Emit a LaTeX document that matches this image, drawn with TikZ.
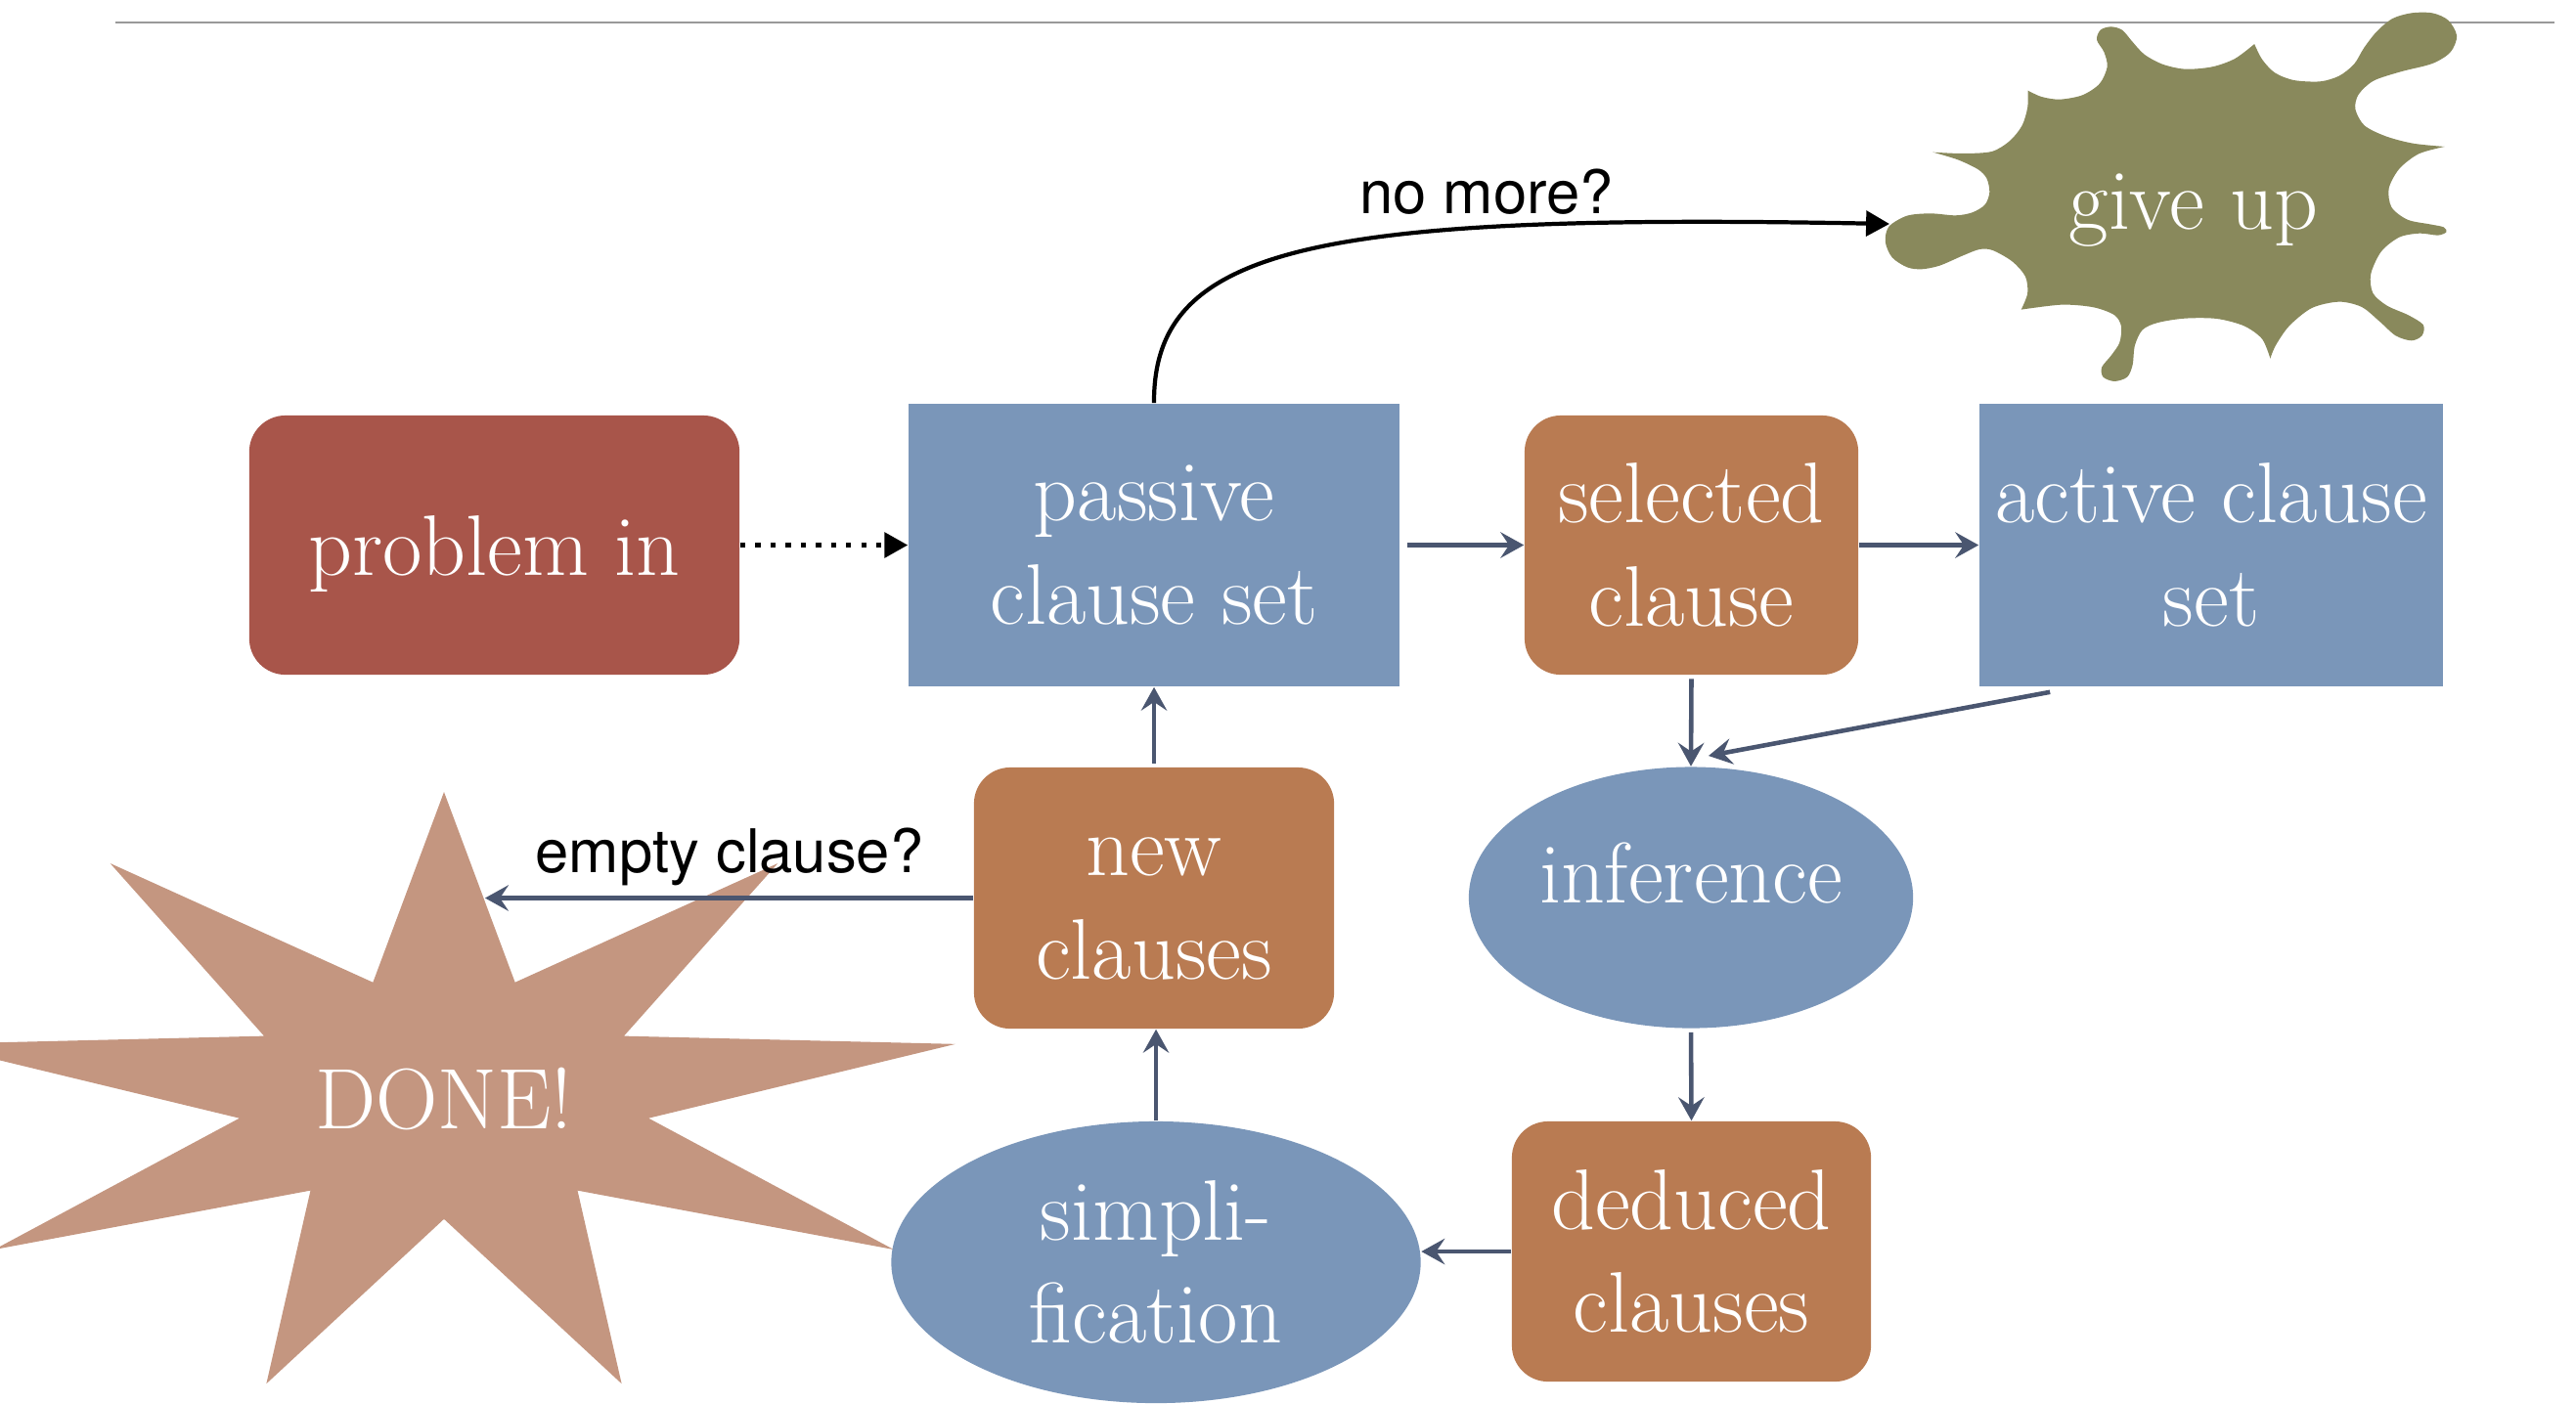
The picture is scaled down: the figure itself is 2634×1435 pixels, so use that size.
\documentclass[tikz,border=0pt]{standalone}
\usepackage{fontspec}
\newfontfamily\labfont{TeX Gyre Heros}
\usetikzlibrary{arrows.meta,calc,shapes.geometric}
\definecolor{probred}{HTML}{A8554A}
\definecolor{clblue}{HTML}{7A96B9}
\definecolor{clbrown}{HTML}{B97B52}
\definecolor{startan}{HTML}{C49680}
\definecolor{splatolive}{HTML}{89895C}
\definecolor{flowcol}{HTML}{4A5670}
\definecolor{rulegray}{HTML}{999999}
\begin{document}
\begin{tikzpicture}[x=0.01cm,y=-0.01cm,
  txt/.style={text=white,font=\fontsize{25}{30}\selectfont,align=center},
  roundbox/.style={txt,rounded corners=0.37cm,inner sep=0pt},
  sqbox/.style={txt,inner sep=0pt},
  oval/.style={txt,ellipse,inner sep=0pt,fill=clblue},
  flow/.style={draw=flowcol,line width=1.3pt,-{Stealth[length=6.8pt,width=7.5pt,inset=2.5pt]}},
  blackarrow/.style={draw=black,line width=1.2pt,-{Triangle[length=6.8pt,width=7.3pt]}},
  lab/.style={font=\labfont\fontsize{17.5}{20}\selectfont,text=black,inner sep=0pt}]
\useasboundingbox (0,0) rectangle (2634,1435);
\fill[white] (0,0) rectangle (2634,1435);
% top rule
\draw[rulegray,line width=0.8pt] (118,23) -- (2612,23);
% star
\begin{scope}
\clip (0,0) rectangle (2634,1435);
\fill[startan,shift={(454,1122)}] (0,-312)
  \foreach \k [evaluate=\k as \f using {0.7+0.3*cos(180*\k)}] in {1,...,17} { -- ({531*\f*cos(90-20*\k)},{-312*\f*sin(90-20*\k)}) } -- cycle;
\end{scope}
% splat
\begin{scope}[shift={(1900,0)},xscale=0.463,yscale=0.3333]
\fill[splatolive] (165,467)
 -- plot[smooth] coordinates {(165,467) (230,471) (295,465) (335,432) (362,385) (374,330) (375,278)}
 -- plot[smooth] coordinates {(375,278) (405,297) (445,305) (495,292) (533,257) (550,205) (543,160) (527,122) (535,92) (558,82) (583,92) (605,127) (632,167) (672,197) (722,212) (782,205) (832,180) (875,135)}
 -- plot[smooth] coordinates {(875,135) (892,182) (920,223) (962,246) (1020,250) (1062,233) (1095,197) (1117,147) (1145,97) (1180,57) (1222,40) (1268,40) (1303,62) (1322,110) (1308,160) (1268,195) (1198,220) (1138,248) (1105,290) (1098,335) (1118,385) (1165,418) (1225,440) (1295,450)}
 -- plot[smooth] coordinates {(1295,450) (1238,472) (1195,518) (1172,578) (1178,636) (1213,674) (1262,688) (1293,697) (1299,712) (1280,722) (1240,716) (1195,728) (1155,772) (1132,842) (1137,900) (1168,938) (1215,967) (1248,997) (1245,1030) (1222,1045) (1187,1030) (1152,987) (1112,942) (1062,926) (1002,945) (952,1000) (922,1060) (910,1100)}
 -- plot[smooth] coordinates {(910,1100) (892,1040) (852,1000) (792,978) (722,977) (662,990) (628,1012) (611,1060) (606,1120) (594,1157) (566,1170) (541,1157) (538,1127) (558,1092) (577,1052) (581,1002) (566,967) (520,943) (450,935) (360,950)}
 -- plot[smooth] coordinates {(360,950) (374,900) (369,848) (340,802) (297,768) (268,765) (230,785) (180,815) (140,826) (108,820) (75,790) (60,742) (68,695) (108,662) (160,655) (215,661) (252,652) (280,628) (290,590) (284,548) (265,520) (220,490) (165,467)}
 -- cycle;
\end{scope}
\node[txt] (giveup) at (2243,215) {give up};
\coordinate (giveupin) at (1932,229);
% boxes
\node[roundbox,fill=probred,minimum width=5.01cm,minimum height=2.65cm,text depth=0pt] (problem) at (505.5,557.5) {problem in};
\node[sqbox,fill=clblue,minimum width=5.02cm,minimum height=2.89cm] (passive) at (1180,557.5) {passive\\clause set};
\node[roundbox,fill=clbrown,minimum width=3.41cm,minimum height=2.65cm] (selected) at (1729.5,557.5) {selected\\clause};
\node[sqbox,fill=clblue,minimum width=4.74cm,minimum height=2.89cm] (active) at (2261,557.5) {active clause\\set};
\node[oval,minimum width=4.54cm,minimum height=2.67cm] (inference) at (1729,918) {};
\node[txt] (inftext) at (1729,893) {inference};
\node[roundbox,fill=clbrown,minimum width=3.68cm,minimum height=2.67cm] (new) at (1180,918.5) {\vphantom{l}new\\clauses};
\node[roundbox,fill=clbrown,minimum width=3.67cm,minimum height=2.66cm] (deduced) at (1729.5,1280) {deduced\\clauses};
\node[oval,minimum width=5.41cm,minimum height=2.88cm] (simp) at (1182,1291) {simpli-\\fication};
\node[txt] (done) at (454,1124) {DONE!};
% connectors
\draw[blackarrow,dash pattern=on 1.5pt off 2.9pt] (problem.east) -- (passive.west);
\draw[blackarrow] (passive.north) .. controls (1179,252) and (1344,218) .. (giveupin);
\node[lab] (nomore) at (1520,196) {no more?};
\draw[flow,shorten <=2pt] (passive.east) -- (selected.west);
\draw[flow] (selected.east) -- (active.west);
\draw[flow,shorten <=1pt] (selected.south) -- (inference.north);
\coordinate (actout) at ($(active.south west)+(73,5)$);
\coordinate (infin) at (1747,773);
\draw[flow] (actout) -- (infin);
\draw[flow,shorten <=1pt] (inference.south) -- (deduced.north);
\draw[flow] (deduced.west) -- (deduced.west -| simp.east);
\draw[flow] (simp.north) -- (simp.north |- new.south);
\draw[flow,shorten <=1pt] (new.north) -- (passive.south);
\coordinate (doneend) at (496,918.5);
\draw[flow] (new.west) -- (doneend);
\node[lab] (empty) at (746,876) {empty clause?};
\end{tikzpicture}
\end{document}
